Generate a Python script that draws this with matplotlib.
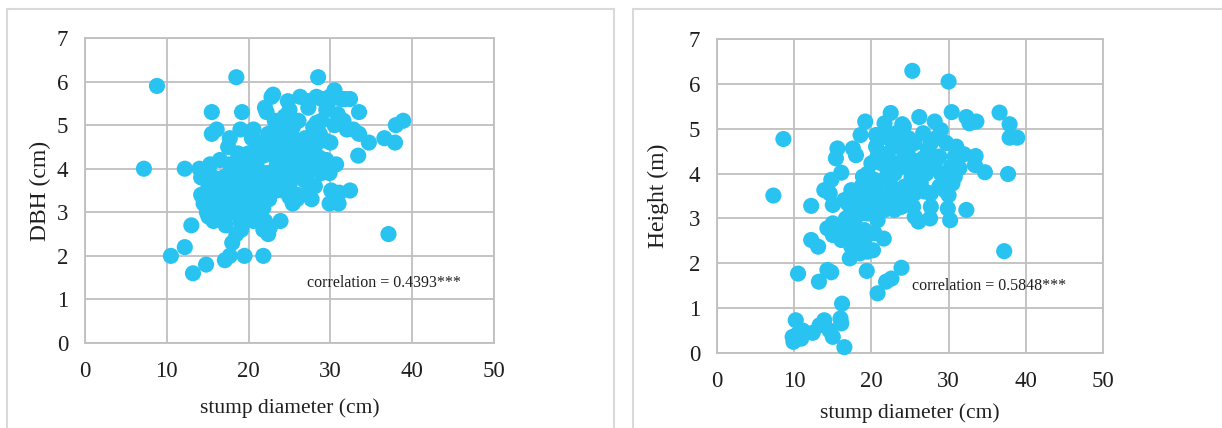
import matplotlib
matplotlib.use("Agg")
import matplotlib.pyplot as plt
from matplotlib.patches import Rectangle

# --- data ---
dbh_x = [8.8, 7.2, 12.2, 10.5, 12.2, 13.2, 13.0, 14.8, 18.5, 28.5, 15.5, 19.2, 15.5, 16.1,
         19.0, 17.7, 17.5, 37.1, 38.9, 38.0, 37.9, 36.6, 34.7, 33.4, 33.5, 32.4, 30.5, 31.3,
         30.9, 31.1, 30.5, 32.0, 32.8, 33.5, 30.0, 29.5, 30.7, 29.9, 28.9, 30.1, 31.1, 32.4,
         29.9, 31.0, 27.7, 28.1, 25.4, 26.1, 23.9, 22.5, 22.4, 21.8, 22.0, 21.8, 19.5, 17.7,
         17.1, 18.0, 18.5, 19.1, 19.0, 17.2, 15.7, 15.1, 14.5, 14.2, 14.2, 14.7, 15.3, 16.5,
         17.7, 16.3, 16.7, 18.1, 19.4, 20.6, 21.2, 19.4, 19.95, 20.6, 20.4, 22.0, 22.2, 22.8,
         23.0, 24.8, 26.3, 27.3, 28.3, 28.9, 29.5, 26.1, 24.4, 28.3, 28.7, 28.1, 26.3, 27.5,
         27.1, 27.5, 25.0, 24.6, 25.9, 25.4, 23.4, 24.2, 22.6, 21.4, 21.8, 21.0, 22.2, 23.4,
         23.0, 20.6, 19.8, 18.5, 17.7, 16.9, 15.7, 15.1, 14.5, 15.7, 16.5, 17.7, 18.1, 19.8,
         21.4, 20.6, 19.4, 20.2, 18.9, 17.3, 16.1, 18.1, 23.8, 25.0, 26.7, 27.7, 26.9, 25.4,
         23.8, 23.2, 25.0, 24.2, 24.6, 25.4, 26.3, 26.7, 25.9, 25.0, 24.2, 23.4, 22.6, 21.8,
         21.0, 21.8, 21.4, 23.0, 22.2, 21.0, 20.6, 22.4, 23.4, 24.6, 23.4, 24.2, 25.4, 26.3,
         27.1, 28.1, 28.7, 29.3, 28.9, 27.9, 27.5, 29.7, 29.9, 31.8, 27.3, 31.6, 14.0, 14.9,
         15.5, 16.5, 18.3, 19.5, 20.6, 22.6, 18.1, 18.9, 18.7, 17.9]
dbh_y = [5.9, 4.0, 4.0, 2.0, 2.2, 1.6, 2.7, 1.8, 6.1, 6.1, 5.3, 5.3, 4.8, 4.9,
         4.9, 4.7, 4.5, 2.5, 5.1, 5.0, 4.6, 4.7, 4.6, 4.3, 5.3, 5.6, 5.8, 5.6,
         5.25, 5.1, 5.0, 4.9, 4.9, 4.8, 4.6, 4.2, 4.1, 3.9, 3.9, 3.5, 3.45, 3.5,
         3.2, 3.2, 3.3, 3.6, 3.2, 3.4, 2.8, 3.3, 2.5, 2.6, 2.8, 2.0, 2.0, 2.0,
         1.9, 2.3, 2.5, 2.6, 2.8, 2.7, 2.8, 2.9, 3.2, 3.4, 3.8, 3.95, 4.1, 4.2,
         4.1, 3.6, 3.3, 3.6, 3.3, 3.05, 3.45, 4.2, 4.35, 4.9, 4.7, 5.4, 5.3, 5.65,
         5.7, 5.55, 5.65, 5.4, 5.65, 5.6, 5.35, 5.1, 5.2, 5.05, 4.8, 4.5, 4.6, 4.2,
         3.8, 3.6, 3.6, 3.75, 4.05, 4.3, 4.5, 4.7, 4.75, 4.6, 4.3, 4.05, 3.9, 4.05,
         3.75, 3.75, 3.9, 3.8, 3.9, 3.8, 3.8, 3.6, 3.3, 3.2, 3.05, 3.1, 3.0, 3.0,
         2.9, 2.8, 3.45, 3.6, 3.6, 3.6, 3.4, 3.4, 4.35, 4.5, 4.35, 4.4, 4.7, 4.95,
         4.95, 5.1, 5.35, 4.1, 3.9, 3.8, 3.95, 3.75, 3.3, 3.35, 3.5, 3.5, 3.6, 3.3,
         3.15, 3.1, 3.75, 4.3, 4.5, 4.45, 4.3, 4.8, 4.8, 4.6, 4.65, 4.35, 4.7, 4.4,
         4.2, 4.0, 4.25, 4.65, 5.1, 4.95, 4.7, 5.5, 5.65, 5.6, 5.55, 5.1, 4.0, 3.0,
         3.15, 2.9, 3.3, 3.15, 3.2, 2.65, 3.75, 3.95, 4.35, 4.05]

height_x = [25.3, 30.0, 8.6, 7.3, 12.2, 10.5, 13.2, 12.2, 13.1, 14.3, 14.8, 16.2, 16.0, 16.1,
            16.5, 15.0, 14.6, 13.9, 13.3, 12.4, 11.1, 10.9, 10.2, 9.9, 9.8, 10.5, 19.4, 20.8,
            21.9, 22.6, 23.9, 37.2, 37.7, 37.9, 38.9, 37.9, 36.6, 33.6, 32.3, 32.7, 30.4, 32.3,
            34.7, 33.5, 33.4, 32.0, 31.0, 31.4, 30.8, 30.5, 30.0, 29.9, 30.2, 29.5, 29.0, 28.8,
            29.0, 28.2, 26.2, 27.6, 27.7, 26.1, 25.6, 25.4, 26.9, 25.6, 21.6, 20.2, 19.5, 18.5,
            17.2, 17.4, 16.1, 15.0, 14.3, 15.0, 15.7, 15.0, 14.6, 13.9, 14.8, 16.1, 15.4, 15.6,
            17.6, 18.0, 18.6, 19.2, 20.6, 21.7, 22.5, 24.0, 24.8, 25.6, 26.7, 26.0, 25.2, 24.3,
            23.9, 23.0, 21.7, 20.8, 20.4, 19.1, 18.2, 17.8, 16.7, 16.9, 17.4, 18.7, 17.8, 19.1,
            19.5, 20.0, 20.8, 20.0, 20.8, 20.6, 22.1, 22.5, 23.4, 24.3, 23.9, 23.0, 22.1, 21.5,
            22.6, 23.4, 22.1, 21.3, 20.4, 19.5, 18.9, 18.2, 16.5, 17.4, 18.7, 26.7, 27.3, 27.7,
            28.4, 28.4, 27.7, 27.1, 26.4, 27.7, 28.8, 29.5, 30.3, 30.8, 29.7, 27.5, 25.4, 25.0,
            25.2, 24.3, 22.9, 20.4, 19.5, 21.3, 22.3, 23.4, 24.7, 21.7, 23.2, 24.2, 19.9, 18.0,
            18.0, 19.1, 16.5, 17.0]
height_y = [6.29, 6.05, 4.77, 3.51, 3.28, 1.77, 1.59, 2.52, 2.37, 1.85, 1.8, 1.1, 0.77, 0.66,
            0.13, 0.36, 0.5, 0.73, 0.62, 0.45, 0.5, 0.32, 0.73, 0.25, 0.36, 0.43, 1.83, 1.33,
            1.59, 1.66, 1.9, 2.27, 3.99, 4.8, 4.8, 5.1, 5.36, 5.16, 5.26, 5.12, 5.37, 3.19,
            4.03, 4.39, 4.19, 4.43, 4.6, 4.12, 3.93, 3.78, 3.52, 3.22, 2.96, 3.63, 4.0, 4.38,
            4.97, 5.16, 5.26, 3.0, 3.26, 2.93, 3.04, 3.26, 3.6, 3.56, 2.55, 2.29, 2.26, 2.22,
            2.11, 2.37, 2.52, 2.63, 2.78, 2.89, 2.74, 3.3, 3.56, 3.63, 3.86, 4.02, 4.34, 4.56,
            4.56, 4.41, 4.86, 5.16, 4.86, 5.12, 5.35, 5.1, 4.79, 4.68, 4.9, 4.08, 3.93, 3.71,
            3.26, 3.19, 3.19, 2.96, 2.67, 2.74, 2.74, 2.96, 3.0, 3.34, 3.63, 3.71, 3.48, 3.34,
            3.11, 3.48, 3.56, 4.23, 4.38, 4.6, 4.45, 4.75, 4.6, 4.38, 4.15, 4.0, 4.08, 3.86,
            3.71, 3.56, 3.48, 3.34, 3.86, 4.0, 3.93, 3.41, 3.41, 3.19, 3.11, 4.34, 4.53, 4.68,
            4.79, 4.3, 4.15, 4.0, 3.78, 3.56, 3.71, 4.0, 4.15, 4.38, 4.68, 4.45, 4.3, 4.1,
            3.71, 3.41, 3.35, 3.26, 3.63, 4.23, 4.3, 4.23, 4.53, 4.82, 4.9, 5.05, 3.6, 2.52,
            2.52, 2.52, 2.6, 2.75]

x_ticks = [0, 10, 20, 30, 40, 50]
y_ticks = [0, 1, 2, 3, 4, 5, 6, 7]
x_label = "stump diameter (cm)"
panels = [
    (dbh_x, dbh_y, "DBH (cm)", "correlation = 0.4393***", (27.1, 1.38)),
    (height_x, height_y, "Height (m)", "correlation = 0.5848***", (25.3, 1.49)),
]

DOT = "#29C3F2"
GRID = "#BFBFBF"
INK = "#1f1f1f"
FONT = ["Liberation Serif", "DejaVu Serif"]

W, H = 1222, 428
plt.rcParams["font.family"] = FONT

fig = plt.figure(figsize=(W / 100, H / 100), dpi=100)

# chart frames (Excel style borders)
for x0, x1 in [(7, 614), (633, 1240)]:
    fig.patches.append(Rectangle((x0 / W, -0.05), (x1 - x0) / W, 1 - 9 / H + 0.05,
                                 transform=fig.transFigure, fill=False,
                                 edgecolor="#D9D9D9", linewidth=1.5))

# axes boxes in pixels: left, right, top, bottom
boxes = [(85, 494, 38, 343), (717, 1103, 39, 353)]
ylab_x = [40, 658]
xlab_y = [408, 413]

for i, (xs, ys, ylab, note, note_xy) in enumerate(panels):
    l, r, t, b = boxes[i]
    ax = fig.add_axes([l / W, 1 - b / H, (r - l) / W, (b - t) / H])
    ax.scatter(xs, ys, s=135, color=DOT, edgecolors="none", zorder=3, clip_on=False)
    ax.set_xlim(0, 50)
    ax.set_ylim(0, 7)
    ax.set_xticks(x_ticks)
    ax.set_yticks(y_ticks)
    ax.grid(True, color=GRID, linewidth=1.3)
    ax.set_axisbelow(True)
    for sp in ax.spines.values():
        sp.set_color(GRID)
        sp.set_linewidth(1.3)
    ax.tick_params(length=0, labelsize=16.5, colors=INK, pad=12)
    ax.tick_params(axis="x", pad=13)
    ax.text(note_xy[0], note_xy[1], note, fontsize=11.5, va="center", ha="left", color=INK)
    fig.text(ylab_x[i] / W, 1 - ((t + b) / 2) / H, ylab, rotation=90, fontsize=17,
             ha="center", va="center", color=INK)
    fig.text(((l + r) / 2) / W, 1 - xlab_y[i] / H, x_label, fontsize=15.5,
             ha="center", va="center", color=INK)

fig.savefig("out.png", dpi=100)
